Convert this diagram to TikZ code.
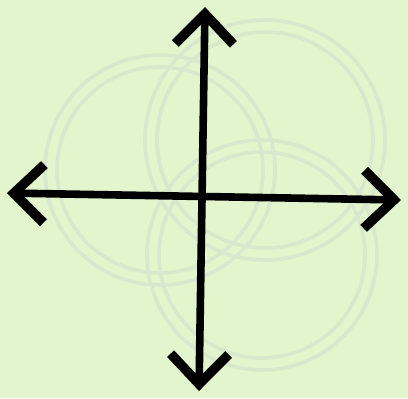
\documentclass[tikz,border=0pt]{standalone}
\usepackage{tikz}
\usetikzlibrary{arrows.meta}

\definecolor{paper}{RGB}{226,245,204}
\definecolor{ghost}{RGB}{216,232,204}

\begin{document}
\begin{tikzpicture}[x=0.5pt, y=-0.5pt, >={Straight Barb[length=15pt, width=29pt, line width=4.8pt]},
  ring/.style={ghost, line width=1.8pt}]
  \fill[paper] (0,0) rectangle (408,398);
  \useasboundingbox (0,0) rectangle (408,398);
  % faint rings behind the cross
  \foreach \cx/\cy/\r in {160/170/115, 265/140/120, 262/255/115} {
    \draw[ring] (\cx,\cy) circle (\r);
    \draw[ring] (\cx,\cy) circle (\r-12);
  }
  \coordinate (top) at (205,7);
  \coordinate (bottom) at (199,391);
  \coordinate (left) at (7,193);
  \coordinate (right) at (401,200);
  \draw[<->, line width=3.8pt] (top) -- (bottom);
  \draw[<->, line width=3.8pt] (left) -- (right);
\end{tikzpicture}
\end{document}
